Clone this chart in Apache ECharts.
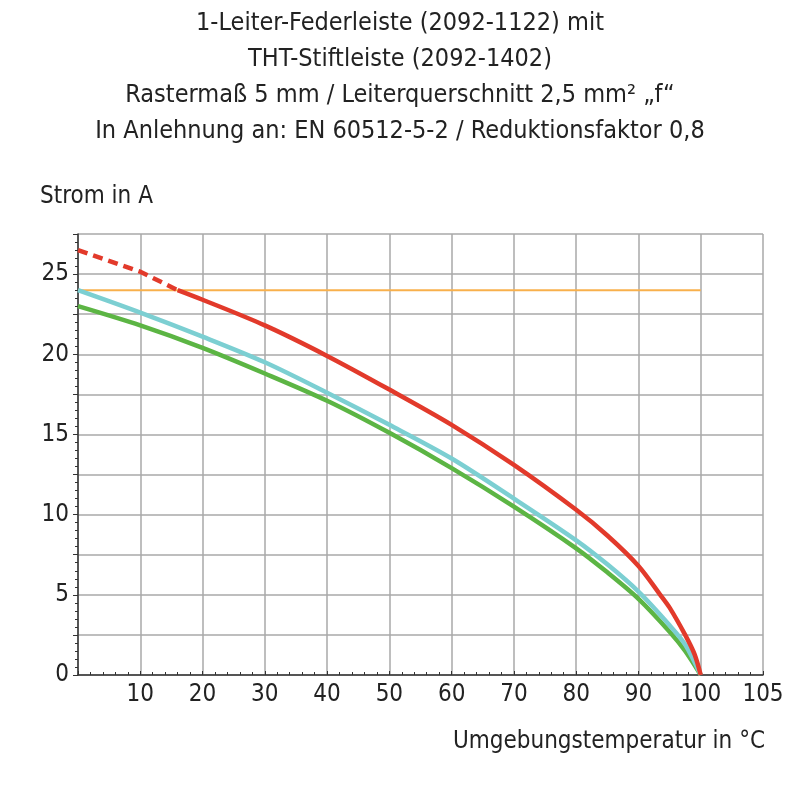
<!DOCTYPE html>
<html>
<head>
<meta charset="utf-8">
<script src="https://cdn.jsdelivr.net/npm/echarts@6/dist/echarts.min.js"></script>
<style>
html,body{margin:0;padding:0;background:#fff;}
#c{width:800px;height:800px;}
</style>
</head>
<body>
<div id="c"></div>
<script>
var titleLines = [
  '1-Leiter-Federleiste (2092-1122) mit',
  'THT-Stiftleiste (2092-1402)',
  'Rastermaß 5 mm / Leiterquerschnitt 2,5 mm² „f“',
  'In Anlehnung an: EN 60512-5-2 / Reduktionsfaktor 0,8'
];
var yAxisName = 'Strom in A';
var xAxisName = 'Umgebungstemperatur in °C';

// red curve: dashed part (extrapolated) and solid part
var redDashedX = [0, 10, 16];
var redDashedY = [26.5, 25.15, 24.0];
var redX = [16, 20, 30, 40, 50, 60, 70, 80, 85, 90, 93.5, 95, 97.5, 99, 100];
var redY = [24.0, 23.4, 21.8, 19.9, 17.8, 15.6, 13.1, 10.3, 8.7, 6.8, 5.0, 4.2, 2.5, 1.3, 0];
var cyanX = [0, 10, 20, 30, 40, 50, 60, 70, 80, 85, 90, 95, 97.5, 100];
var cyanY = [24.0, 22.6, 21.1, 19.5, 17.6, 15.6, 13.5, 11.0, 8.4, 6.9, 5.2, 3.1, 1.9, 0];
var greenX = [0, 10, 20, 30, 40, 50, 60, 70, 80, 85, 90, 95, 97.5, 100];
var greenY = [23.0, 21.8, 20.4, 18.8, 17.1, 15.1, 12.9, 10.5, 7.9, 6.4, 4.75, 2.7, 1.5, 0];
var limitX = [0, 100];
var limitY = [24, 24];

function pairs(xs, ys){ return xs.map(function(x,i){ return [x, ys[i]]; }); }

var FONT = '"Liberation Sans Narrow", "DejaVu Sans Condensed", "Roboto Condensed", sans-serif';
var chart = echarts.init(document.getElementById('c'), null, {renderer:'canvas'});
var option = {
  backgroundColor: '#ffffff',
  animation: false,
  title: {
    text: titleLines.join('\n'),
    left: 'center',
    top: 0,
    textStyle: {fontFamily: FONT, fontSize: 25, fontWeight: 'normal', color: '#222', lineHeight: 36}
  },
  graphic: [
    {type:'text', left: 40, top: 185, style:{text: yAxisName, font: '24px ' + FONT, fill:'#222'}},
    {type:'text', right: 35, top: 730, style:{text: xAxisName, font: '24px ' + FONT, fill:'#222'}}
  ],
  grid: {left: 78, right: 37, top: 234, bottom: 125, containLabel: false},
  xAxis: {
    type: 'value', min: 0, max: 110, interval: 10,
    axisLine: {show: true, onZero: false, lineStyle: {color: '#333', width: 1.5}},
    axisTick: {show: true, inside: true, length: 4, lineStyle: {color:'#333'}},
    minorTick: {show: true, splitNumber: 5, length: 3, lineStyle: {color:'#333'}},
    axisLabel: {
      fontFamily: FONT, fontSize: 24, color: '#222', margin: 8,
      formatter: function(v){ if (v === 0) return ''; if (v === 110) return '105'; return String(v); }
    },
    splitLine: {show: true, lineStyle: {color: '#a8a8a8', width: 1.5}}
  },
  yAxis: {
    type: 'value', min: 0, max: 27.5, interval: 2.5,
    axisLine: {show: true, lineStyle: {color: '#333', width: 1.5}},
    axisTick: {show: true, length: 5, lineStyle: {color:'#333'}},
    minorTick: {show: true, splitNumber: 5, length: 3, lineStyle: {color:'#333'}},
    axisLabel: {
      fontFamily: FONT, fontSize: 24, color: '#222', margin: 9,
      formatter: function(v){ return (Math.abs(v % 5) < 1e-9) ? String(v) : ''; }
    },
    splitLine: {show: true, lineStyle: {color: '#a8a8a8', width: 1.5}}
  },
  series: [
    {type:'line', data: pairs(limitX, limitY), showSymbol:false, lineStyle:{color:'#f8b04c', width:2}, z:2},
    {type:'line', data: pairs(greenX, greenY), showSymbol:false, smooth:0.3, lineStyle:{color:'#5cb544', width:4.5}, z:3},
    {type:'line', data: pairs(cyanX, cyanY), showSymbol:false, smooth:0.3, lineStyle:{color:'#7ccfd2', width:4.5}, z:4},
    {type:'line', data: pairs(redDashedX, redDashedY), showSymbol:false, smooth:false, lineStyle:{color:'#e23a2b', width:4.5, type:[10,6]}, z:5},
    {type:'line', data: pairs(redX, redY), showSymbol:false, smooth:0.3, lineStyle:{color:'#e23a2b', width:4.5}, z:5}
  ]
};
chart.setOption(option);
</script>
</body>
</html>
